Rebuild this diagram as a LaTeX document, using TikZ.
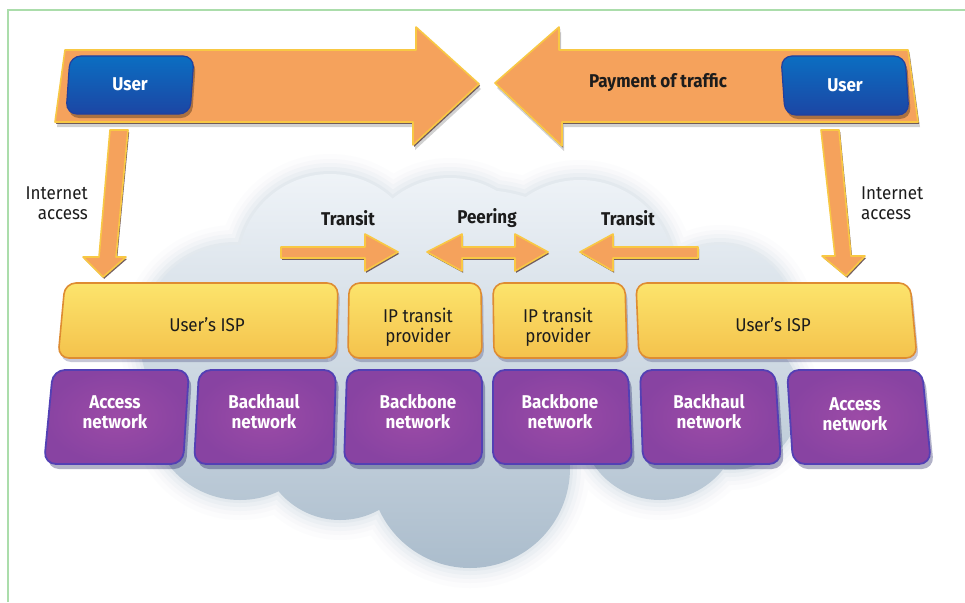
\documentclass[tikz,border=0pt]{standalone}
\usepackage{fontspec}
\setmainfont[FakeStretch=0.92]{Fira Sans}
\usetikzlibrary{shadows}

\definecolor{framegreen}{HTML}{ABDDAB}
\definecolor{arrowfill}{HTML}{F5A25C}
\definecolor{arrowedge}{HTML}{F8C844}
\definecolor{arrowdark}{HTML}{5E4446}
\definecolor{bluetop}{HTML}{0B6EC2}
\definecolor{bluebot}{HTML}{1C46A4}
\definecolor{blueedge}{HTML}{22409E}
\definecolor{ylwtop}{HTML}{FCE46C}
\definecolor{ylwbot}{HTML}{F4C24C}
\definecolor{ylwedge}{HTML}{DE8C32}
\definecolor{purpin}{HTML}{9C4BA6}
\definecolor{purpout}{HTML}{8843A2}
\definecolor{purpedge}{HTML}{5340B4}
\definecolor{cloudtop}{HTML}{F1F5F9}
\definecolor{cloudmid}{HTML}{DCE6EF}
\definecolor{cloudbot}{HTML}{A9BBCB}
\definecolor{cloudhalo}{HTML}{B8C8D6}
\definecolor{inktext}{HTML}{1C1C1C}

% union of lobes forming the cloud; #1 widens every lobe
\newcommand\cloudoutline[1]{%
  (330,266) circle[radius=92+#1]
  (450,268) circle[radius=90+#1]
  (580,275) circle[radius=95+#1]
  (720,320) circle[radius=75+#1]
  (235,340) circle[radius=95+#1]
  (240,410) circle[radius=90+#1]
  (340,440) circle[radius=80+#1]
  (470,468) circle[radius=100+#1]
  (660,420) circle[radius=80+#1]
  (730,400) circle[radius=70+#1]
  (480,340) circle[radius=150+#1]}

\tikzset{
  txt/.style={font=\fontsize{18.5}{20}\selectfont, text=inktext, inner sep=0pt, align=center},
  boldtxt/.style={txt, font=\fontsize{18.5}{20}\selectfont\bfseries},
  whitetxt/.style={boldtxt, text=white},
  blockarrow/.style={fill=arrowfill, draw=arrowedge, line width=1.6pt, line join=round,
    drop shadow={shadow xshift=1.2pt, shadow yshift=-1.8pt, fill=arrowdark, opacity=0.85}},
  bigshadow/.style={drop shadow={shadow xshift=2pt, shadow yshift=-5pt, fill=black, opacity=0.18}},
  userbox/.style={rounded corners=11pt, top color=bluetop, bottom color=bluebot,
    draw=blueedge, line width=1.2pt,
    drop shadow={shadow xshift=2pt, shadow yshift=-4pt, fill=black, opacity=0.3}},
  ispbox/.style={rounded corners=11pt, top color=ylwtop, bottom color=ylwbot,
    draw=ylwedge, line width=1.6pt,
    drop shadow={shadow xshift=2pt, shadow yshift=-4pt, fill=black!70!blue, opacity=0.22}},
  netbox/.style={rounded corners=12pt, inner color=purpin, outer color=purpout,
    draw=purpedge, line width=1.8pt,
    drop shadow={shadow xshift=3pt, shadow yshift=-5pt, fill=black!70!blue, opacity=0.3}},
}

\begin{document}
\begin{tikzpicture}[x=1pt,y=-1pt]
\useasboundingbox (0,0) rectangle (965,602);
\fill[white] (0,0) rectangle (965,602);

% frame lines
\draw[framegreen, line width=2pt] (8,602) -- (8,10) -- (965,10);

% cloud: soft rim, then shaded body
\foreach \e/\o in {20/0.04, 15/0.06, 11/0.08, 7/0.11, 3/0.15} {
  \fill[cloudhalo, opacity=\o] \cloudoutline{\e};
}
\begin{scope}
  \clip \cloudoutline{0};
  \shade[top color=cloudtop, middle color=cloudmid, bottom color=cloudbot]
    (130,160) rectangle (810,580);
\end{scope}

% big horizontal arrows
\path[bigshadow, blockarrow]
  (65,50) -- (416,50) -- (416,27) -- (479,84) -- (413,145) -- (413,122) -- (55,122) -- cycle;
\path[bigshadow, blockarrow]
  (495,83) -- (559,27) -- (559,50) -- (908,50) -- (918,122) -- (562,122) -- (562,146) -- cycle;

% user boxes
\path[userbox] (70,56) -- (194,56) -- (190,114) -- (66,114) -- cycle;
\path[userbox] (781,56) -- (905,56) -- (909,115) -- (785,115) -- cycle;
\node[whitetxt] (userL) at (130,84) {User};
\node[whitetxt] (userR) at (845,85) {User};
\node[boldtxt] (pay) at (658,83) {Payment of traffic};

% internet access arrows
\path[blockarrow]
  (110,130) -- (128,130) -- (116,257) -- (126,257) -- (103,277) -- (83,257) -- (99,257) -- cycle;
\path[blockarrow]
  (821,130) -- (839,130) -- (851,256) -- (865,256) -- (846,276) -- (822,256) -- (835,256) -- cycle;
\node[txt, anchor=east, align=right] (accL) at (88,203) {Internet\\access};
\node[txt, anchor=west, align=left] (accR) at (861,203) {Internet\\access};

% transit and peering arrows
\path[blockarrow]
  (281,247) -- (365,247) -- (365,234) -- (398,252) -- (365,271) -- (365,258) -- (281,258) -- cycle;
\path[blockarrow]
  (427,252) -- (462,234) -- (462,247) -- (515,247) -- (515,234) -- (548,252)
  -- (515,271) -- (515,258) -- (462,258) -- (462,271) -- cycle;
\path[blockarrow]
  (580,252) -- (613,234) -- (613,247) -- (698,247) -- (698,258) -- (613,258) -- (613,271) -- cycle;
\node[boldtxt] (transitL) at (348,218) {Transit};
\node[boldtxt] (peering) at (487,218) {Peering};
\node[boldtxt] (transitR) at (628,218) {Transit};

% provider row
\path[ispbox] (65,283) -- (338,283) -- (336,358) -- (58,358) -- cycle;
\path[ispbox] (349,283) -- (481,283) -- (482,358) -- (348,358) -- cycle;
\path[ispbox] (493,283) -- (625,283) -- (627,358) -- (494,358) -- cycle;
\path[ispbox] (636,283) -- (910,283) -- (917,358) -- (639,358) -- cycle;
\node[txt] (ispL) at (207,325) {User’s ISP};
\node[txt] (ipL) at (418,327) {IP transit\\provider};
\node[txt] (ipR) at (558,327) {IP transit\\provider};
\node[txt] (ispR) at (773,325) {User’s ISP};

% network row
\path[netbox] (53,370) -- (189,370) -- (183,464) -- (44,464) -- cycle;
\path[netbox] (199,370) -- (336,370) -- (333,464) -- (194,464) -- cycle;
\path[netbox] (347,370) -- (482,370) -- (482,464) -- (344,464) -- cycle;
\path[netbox] (493,370) -- (628,370) -- (632,464) -- (493,464) -- cycle;
\path[netbox] (640,370) -- (775,370) -- (781,464) -- (643,464) -- cycle;
\path[netbox] (787,370) -- (922,370) -- (931,464) -- (793,464) -- cycle;
\node[whitetxt] (netA1) at (115,412) {Access\\network};
\node[whitetxt] (netB1) at (264,412) {Backhaul\\network};
\node[whitetxt] (netC1) at (418,412) {Backbone\\network};
\node[whitetxt] (netC2) at (560,412) {Backbone\\network};
\node[whitetxt] (netB2) at (709,412) {Backhaul\\network};
\node[whitetxt] (netA2) at (855,414) {Access\\network};
\end{tikzpicture}
\end{document}
